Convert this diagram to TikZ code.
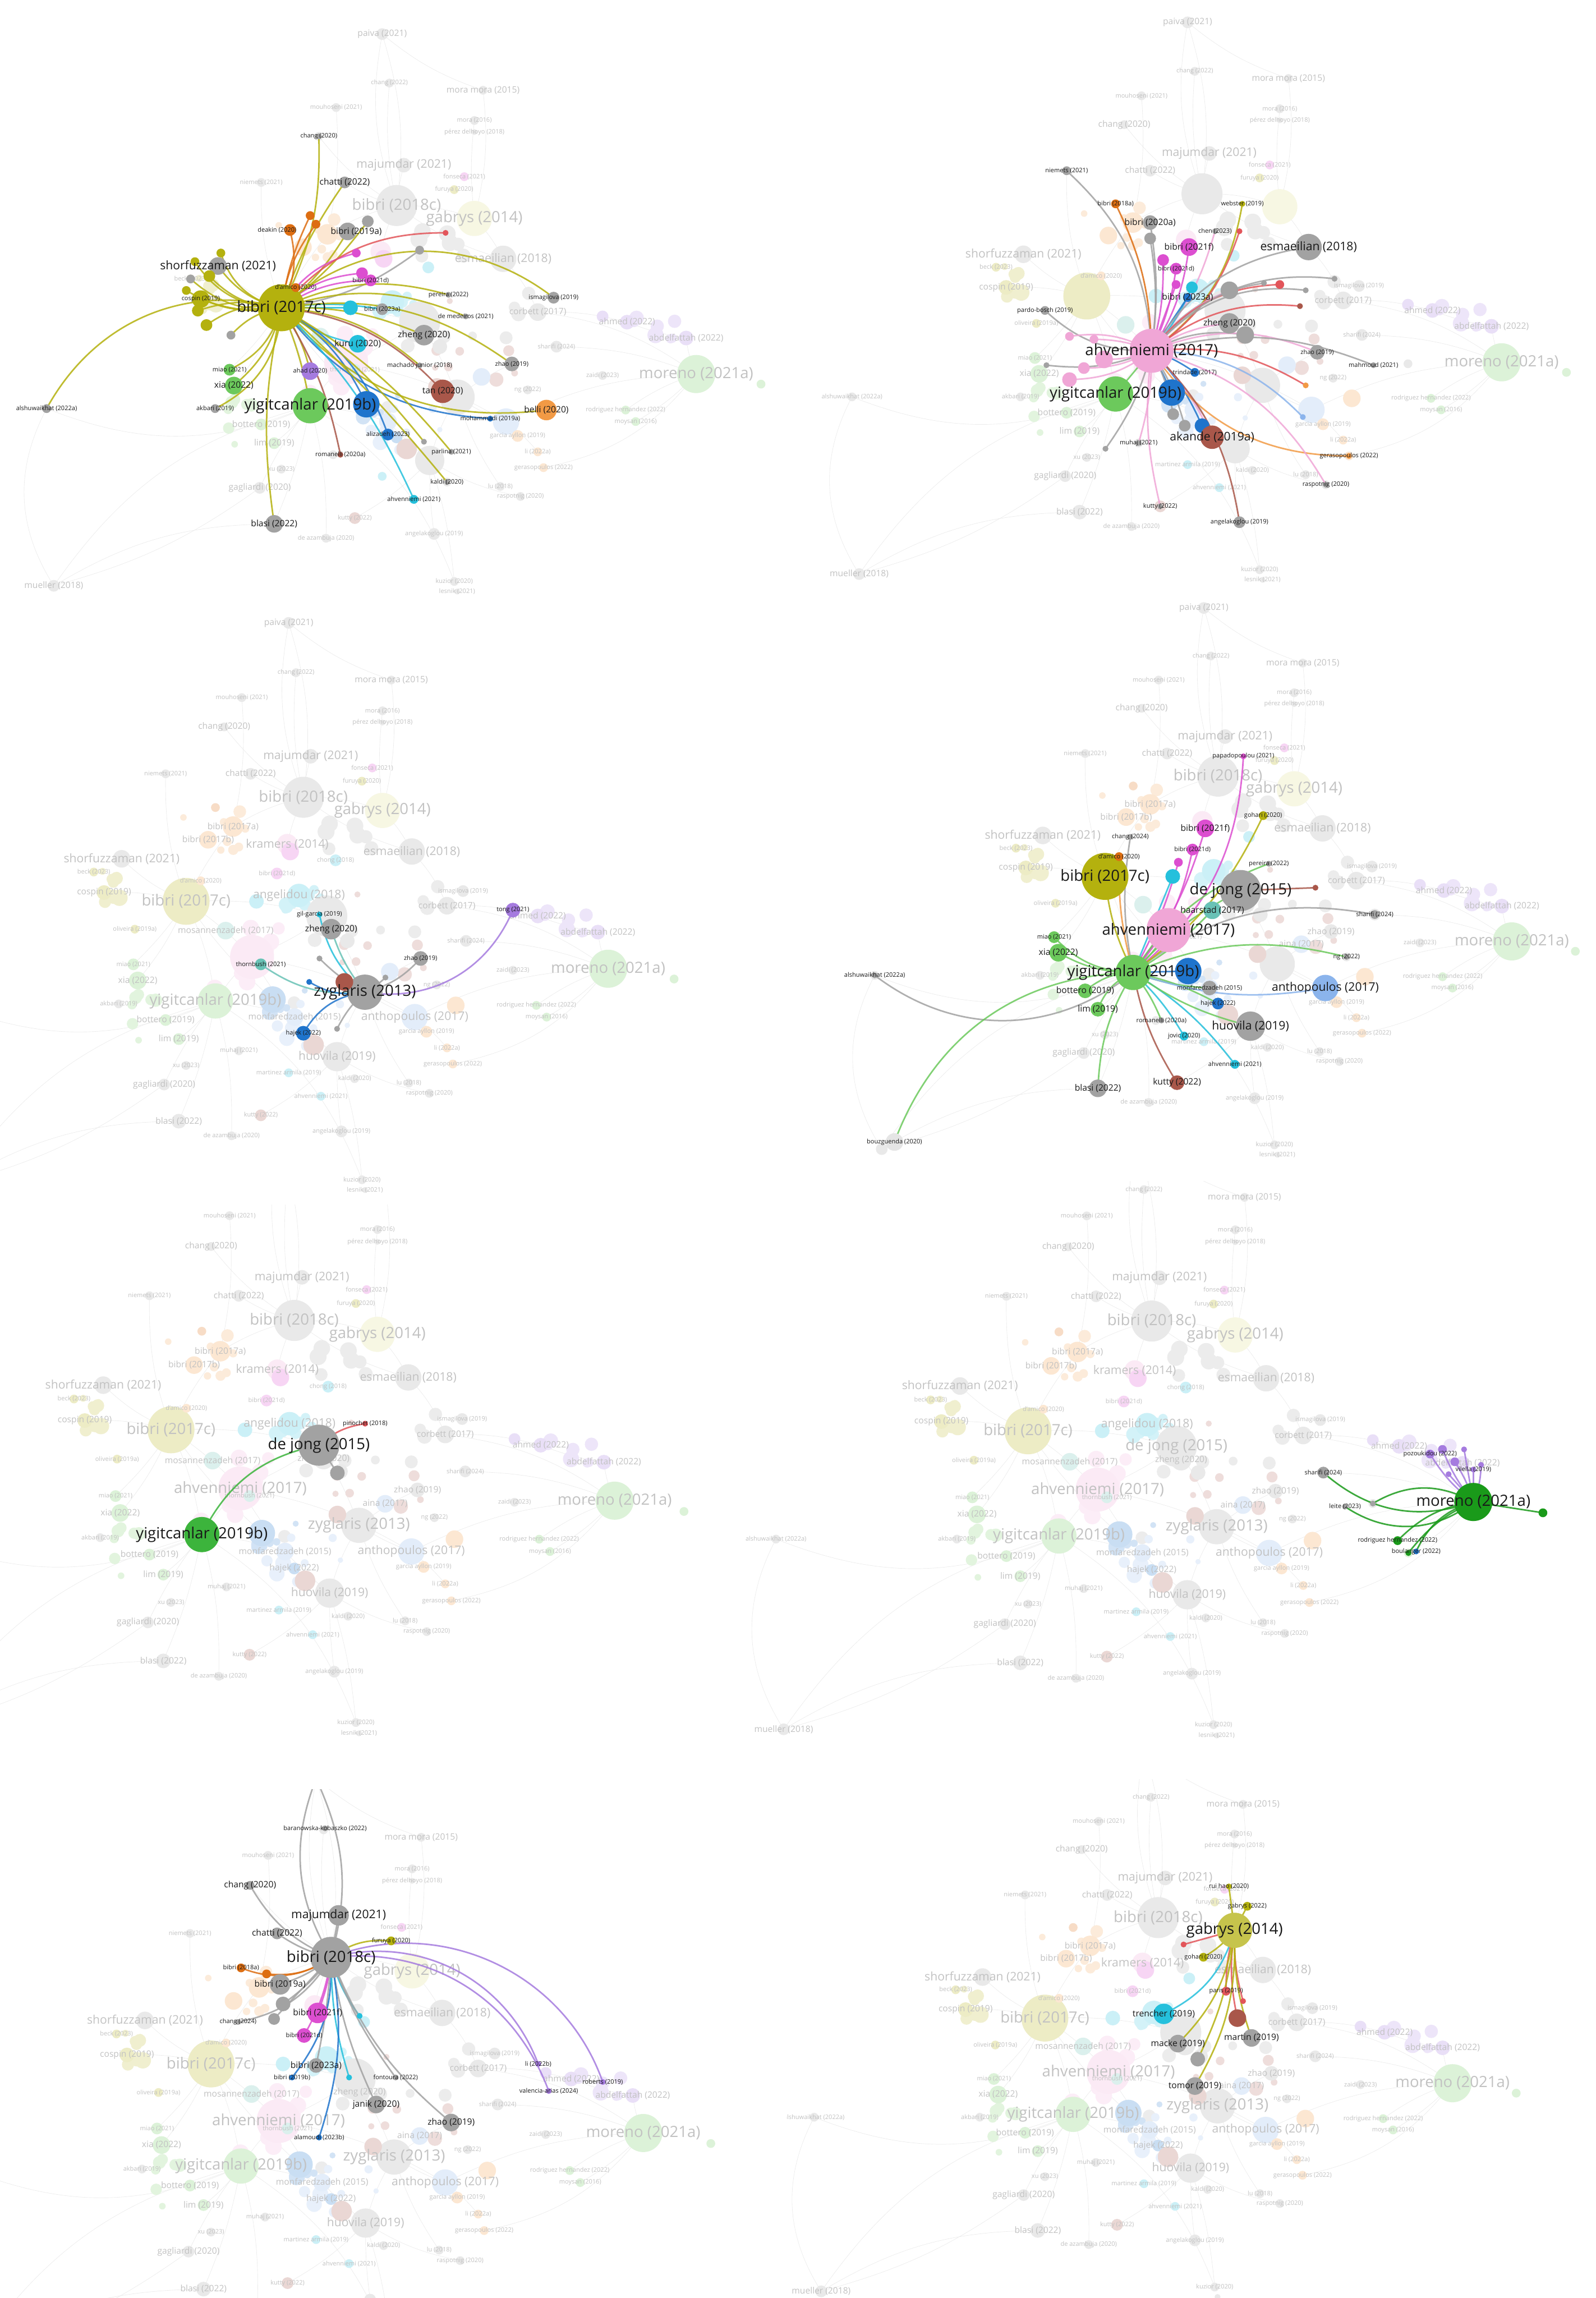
\documentclass[tikz,border=0pt]{standalone}
\usepackage{fontspec}
\setmainfont{Open Sans}
\definecolor{vosolive}{HTML}{B4B10E}
\definecolor{vosyellow}{HTML}{C6C44C}
\definecolor{vosgreen}{HTML}{6CC95C}
\definecolor{vosmidgreen}{HTML}{3CB43C}
\definecolor{vosdkgreen}{HTML}{1A9A1A}
\definecolor{vospink}{HTML}{F0A6D6}
\definecolor{vosgray}{HTML}{A2A2A2}
\definecolor{vosblue}{HTML}{1F74CC}
\definecolor{vosltblue}{HTML}{8BB4EC}
\definecolor{voscyan}{HTML}{25C0DC}
\definecolor{vosorange}{HTML}{F29A45}
\definecolor{vosdkorange}{HTML}{DD6E12}
\definecolor{vospurple}{HTML}{A57BDF}
\definecolor{vosbrown}{HTML}{A9574A}
\definecolor{vosmagenta}{HTML}{DC4ED0}
\definecolor{vospale}{HTML}{DCDD8C}
\definecolor{vosred}{HTML}{E2555A}
\definecolor{vosteal}{HTML}{69C2B6}
\newcommand\vosL{\fontsize{15}{15}\selectfont}
\newcommand\vosM{\fontsize{11.5}{12}\selectfont}
\newcommand\vosS{\fontsize{8.5}{9}\selectfont}
\newcommand\vosT{\fontsize{6}{6}\selectfont}
\tikzset{
dotn/.style={circle,inner sep=0pt,draw=none},
fadetxt/.style={inner sep=0pt,text=black!24},
hltxt/.style={inner sep=0pt,text=black!90},
bgedge/.style={draw=black!8,line width=0.35pt},
hledge/.style={line width=1.5pt,draw opacity=0.85}
}
% faded labels left out in a panel (cut by its edge, or hidden there)
\def\vospanel{none}
\newcommand\vosskip[1]{\foreach \s in {#1}{\expandafter\gdef\csname vosskip@\vospanel @\s\endcsname{}}}
% common map: name/x/y/radius/colour/size/label
\def\netnodes{%
b17c/0/0/16/vosolive/L/bibri (2017c),
yig19b/20/68/12/vosgreen/L/yigitcanlar (2019b),
ahv17/45/38/15/vospink/L/ahvenniemi (2017),
mor21a/288/46/13/vosgreen/L/moreno (2021a),
dej15/96/10/14/vosgray/L/de jong (2015),
zyg13/122/62/12/vosgray/L/zyglaris (2013),
b18c/80/-71/14/vosgray/L/bibri (2018c),
gab14/134/-62/12/vospale/L/gabrys (2014),
esm18/154/-34/9/vosgray/M/esmaeilian (2018),
huo19/103/106/10/vosgray/M/huovila (2019),
ant17/156/79/9/vosltblue/M/anthopoulos (2017),
ang18/77/-4/8/voscyan/M/angelidou (2018),
kra14/69/-39/7/vospink/M/kramers (2014),
shf21/-44/-29/6/vosgray/M/shorfuzzaman (2021),
maj21/85/-99/5/vosgray/M/majumdar (2021),
bla22/-5/150/5/vosgray/S/blasi (2022),
cor17/178/3/6/vosgray/S/corbett (2017),
mos17/27/20/6/vosteal/S/mosannenzadeh (2017),
mon15/74/79/6/vosltblue/S/monfaredzadeh (2015),
b17a/32/-51/7/vosorange/S/bibri (2017a),
b17b/15/-42/6/vosorange/S/bibri (2017b),
ahm22/240/10/5/vospurple/S/ahmed (2022),
abd22/281/21/5/vospurple/S/abdelfattah (2022),
xia22/-33/54/6/vosgreen/S/xia (2022),
miao21/-36/43/4/vosgreen/T/miao (2021),
bot19/-14/81/4/vosgreen/S/bottero (2019),
lim19/-5/94/4/vosgreen/S/lim (2019),
cos19/-56/-6/5/vosolive/S/cospin (2019),
beck23/-63/-20/3/vosolive/T/beck (2023),
dam20/10/-14/3/vosorange/T/d'amico (2020),
b21d/62/-19/4/vosmagenta/T/bibri (2021d),
b21f/71/-34/6/vosmagenta/T/{},
b18a/20/-64/3/vosdkorange/T/{},
chong18/102/-28/4/voscyan/T/chong (2018),
isma19/189/-7/4/vosgray/T/ismagilova (2019),
zhe20/99/19/7/vosgray/S/zheng (2020),
jan20/110/27/5/vosgray/T/{},
oli19/-35/19/3/vosolive/T/oliveira (2019a),
shr24/191/27/4/vosgray/T/sharifi (2024),
zhao19/160/39/5/vosgray/S/zhao (2019),
aina17/139/48/6/vosltblue/S/aina (2017),
thor21/51/43/4/vosteal/T/thornbush (2021),
zai23/223/47/3/vosgray/T/zaidi (2023),
ng22/171/57/3/vosgray/T/ng (2022),
akb19/-46/70/3/vosgray/T/akbari (2019),
rodh22/239/71/3/vosgreen/T/rodriguez hernandez (2022),
moy16/246/79/3/vosgreen/T/moysan (2016),
gar19/164/89/4/vosorange/T/garcia ayllon (2019),
bel20/184/71/6/vosorange/T/{},
haj22/80/90/4/vosblue/S/hajek (2022),
li22/178/100/3/vosorange/T/li (2022a),
muh21/36/102/3/vosgray/T/muhaj (2021),
ger22/182/111/3/vosorange/T/gerasopoulos (2022),
xu23/0/112/3/vosgray/T/xu (2023),
mar19/70/117/3/voscyan/T/martinez armila (2019),
kal20/115/121/3/vosgray/T/kaldi (2020),
lu18/152/124/3/vosgray/T/lu (2018),
gag20/-15/125/4/vosgray/S/gagliardi (2020),
ras20/166/131/3/vosgray/T/raspotnig (2020),
ahv21/92/133/3/voscyan/T/ahvenniemi (2021),
kut22/51/146/4/vosbrown/T/kutty (2022),
dea20/31/160/3/vosgray/T/de azambuja (2020),
angk19/106/157/4/vosgray/T/angelakoglou (2019),
kuz20/120/190/3/vosgray/T/kuzior (2020),
les21/122/197/2/vosgray/T/lesnik (2021),
pai21/70/-190/4/vosgray/S/paiva (2021),
chg22/75/-156/3/vosgray/T/chang (2022),
mm15/140/-151/3/vosgray/S/mora mora (2015),
mou21/38/-139/3/vosgray/T/mouhoseni (2021),
mora16/134/-130/3/vosgray/T/mora (2016),
pde18/134/-122/2/vosgray/T/pérez delhoyo (2018),
chg20/26/-119/3/vosgray/S/chang (2020),
nie21/-14/-87/3/vosgray/T/niemets (2021),
cha22/44/-87/4/vosgray/S/chatti (2022),
fon21/127/-91/3/vosmagenta/T/fonseca (2021),
fur20/120/-82/3/vosolive/T/furuya (2020),
mue18/-158/193/4/vosgray/S/mueller (2018),
alsh22/-163/70/3/vosgray/T/alshuwaikhat (2022a),
cy1/48/0/5/voscyan/T/{},
blu1/59/67/9/vosblue/T/{},
aka19/87/98/7/vosbrown/T/{},
gm2/333/53/3/vosgreen/T/{},
zyb/108/55/6/vosbrown/T/{},
tong21/223/6/4/vospurple/T/{}%
}
\def\netedges{%
b17c/yig19b/8, b17c/ahv17/6, ahv17/yig19b/-6, b17c/shf21/10, b17c/cos19/-8,
b17c/b17a/6, b17a/b18c/8, b18c/maj21/4, b18c/cha22/8, b18c/chg20/10,
b18c/pai21/15, b18c/pai21/-12, gab14/mm15/-10, gab14/mora16/6, gab14/esm18/8,
esm18/cor17/10, dej15/zyg13/6, zyg13/huo19/-8, huo19/kut22/8, ahv17/huo19/-10,
yig19b/bla22/6, yig19b/alsh22/22, yig19b/mue18/-20, mor21a/abd22/8, mor21a/rodh22/-8,
mor21a/ant17/-12, ant17/zyg13/6, kuz20/huo19/-6, angk19/huo19/4, dea20/yig19b/-8,
gag20/yig19b/6, b17c/dej15/8, dej15/ang18/-6, zhao19/zyg13/-6, shr24/mor21a/10,
ahm22/cor17/-8, abd22/ahm22/6, b18c/gab14/10, b18c/esm18/-10, kra14/b18c/6,
ahv17/dej15/-6, ahv17/ant17/10, mon15/yig19b/-6, mue18/bla22/15, alsh22/mue18/-30,
gag20/mue18/10, mor21a/moy16/8, mor21a/ger22/20, mor21a/cor17/-14, pai21/mm15/-10,
chg22/b18c/-8, mou21/b17a/8, nie21/b17c/-10, kuz20/yig19b/-18, lu18/zyg13/8,
ras20/huo19/10, li22/ant17/-6, gar19/ant17/6, b17c/xia22/8, b17c/miao21/6,
b17c/blu1/-6, yig19b/lim19/8, yig19b/bot19/4%
}
\newcommand\netbase{%
\foreach \nm/\x/\y/\rr/\col/\sz/\lbl in \netnodes {\coordinate (\nm) at (\x,\y);}
\foreach \a/\b/\bd in \netedges {\draw[bgedge] (\a) to[bend left=\bd] (\b);}
\pgfmathsetseed{321}
\foreach \col/\cx/\cy/\sx/\sy [count=\k] in {vospink/42/40/25/22, vosgray/125/30/55/45,
  vosltblue/85/85/30/20, voscyan/85/-5/20/15, vosorange/20/-45/22/18, vosolive/-48/-12/14/14,
  vosbrown/135/25/35/30, vospurple/258/14/22/8, vosgray/110/-55/30/20, vosgreen/-25/80/15/20,
  vosblue/70/72/15/12}{
  \foreach \j in {1,...,8}{
    \pgfmathsetmacro\rx{\cx+\sx*rand}
    \pgfmathsetmacro\ry{\cy+\sy*rand}
    \pgfmathsetmacro\rd{0.18+0.4*rnd}
    \node[dotn,fill=\col!20,minimum size=\rd cm] (bg\k-\j) at (\rx,\ry) {};}}
\foreach \nm/\x/\y/\rr/\col/\sz/\lbl in \netnodes
  {\node[dotn,fill=\col!24,minimum size=\rr*0.1cm] (\nm-d) at (\nm) {};}
\foreach \nm/\x/\y/\rr/\col/\sz/\lbl in \netnodes
  {\ifcsname vosskip@\vospanel @\nm\endcsname\else
   \node[fadetxt,font=\csname vos\sz\endcsname] (\nm-t) at (\nm) {\lbl};\fi}
}
\begin{document}
\begin{tikzpicture}[x=0.05cm,y=-0.05cm]
\useasboundingbox (0,0) rectangle (1089,1568);
\fill[white] (0,0) rectangle (1089,1568);

% bibri (2017c)
\begin{scope}
\clip (0,0) rectangle (540,409);
\begin{scope}[shift={(192,210)},scale=0.983,name prefix=pa-]
\def\vospanel{pa}
\vosskip{b17c,yig19b,chg20,cha22,shf21,cos19,dam20,b21d,isma19,zhe20,zhao19,miao21,xia22,
  akb19,kal20,ahv21,bla22,alsh22,dej15,zyg13,ahv17,ang18,kra14,b17a,b17b,mos17,mon15,ant17,
  huo19,aina17,haj22,muh21,mar19,chong18,oli19}
\netbase
\foreach \nm/\x/\y in {dk/6/-54,bx/46/-53,o5/24/-58,pr/116/-9,bg/70/1,dm/128/6,ku/53/25,ah/20/44,
  mj/96/40,tn/112/58,mh/145/77,az/74/88,fg/99/93,rm/41/102,pl/118/100,y1/-60/-32,y2/-66/-12,
  y3/-58/2,y4/-50/-22,y5/-52/12,y6/-42/-38,r1/114/-52,m1/56/-24,m2/52/-38,g1/60/-60,g2/96/-40}
  \coordinate (\nm) at (\x,\y);
\foreach \b/\col/\bd in {chg20/vosolive/-14,cha22/vosolive/8,dk/vosdkorange/-20,o5/vosdkorange/14,
  b18a/vosdkorange/8,bx/vosolive/-10,g1/vosolive/-8,g2/vosgray/-14,shf21/vosolive/20,y1/vosolive/28,
  y2/vosolive/20,y3/vosolive/-16,y4/vosolive/22,y5/vosolive/-22,y6/vosolive/30,cos19/vosolive/14,
  beck23/vosolive/24,oli19/vosolive/-18,dam20/vosdkorange/0,b21d/vosmagenta/16,m1/vosmagenta/18,
  m2/vosmagenta/22,r1/vosred/25,pr/vosolive/20,isma19/vosolive/40,bg/voscyan/8,cy1/voscyan/0,
  dm/vosolive/20,zhe20/vosolive/12,ku/voscyan/-14,zhao19/vosolive/22,miao21/vosolive/24,
  xia22/vosolive/18,ah/vosolive/10,mj/vosolive/18,tn/vosbrown/20,akb19/vosolive/30,yig19b/vosolive/6,
  blu1/vosblue/16,bel20/vosolive/-28,mh/vosblue/-24,az/vosblue/20,fg/vosolive/8,rm/vosbrown/10,
  pl/vosolive/10,kal20/vosolive/4,ahv21/voscyan/10,bla22/vosolive/-10,alsh22/vosolive/-38}
  \draw[hledge,draw=\col] (b17c) to[bend left=\bd] (\b);
\foreach \nm/\rr/\col in {b17c/16/vosolive,yig19b/12/vosgreen,blu1/9/vosblue,dk/4/vosdkorange,
  o5/3/vosdkorange,b18a/3/vosdkorange,bx/6/vosgray,g1/4/vosgray,g2/3/vosgray,shf21/6/vosgray,
  y1/3/vosolive,y2/3/vosolive,y3/4/vosolive,y4/4/vosolive,y5/4/vosolive,y6/3/vosolive,
  cos19/6/vosolive,beck23/3/vosgray,oli19/3/vosgray,dam20/3/vosdkorange,b21d/4/vosmagenta,
  m1/4/vosmagenta,m2/3/vosmagenta,r1/2/vosred,pr/2/vosgray,isma19/4/vosgray,bg/4/vosgray,
  cy1/5/voscyan,dm/2/vosgray,zhe20/7/vosgray,ku/6/voscyan,zhao19/5/vosgray,miao21/4/vosgreen,
  xia22/6/vosgreen,ah/6/vospurple,mj/2/vosgray,tn/8/vosbrown,akb19/3/vosgray,bel20/7/vosorange,
  mh/2/vosblue,az/4/vosblue,fg/2/vosgray,rm/2/vosbrown,pl/2/vosgray,kal20/2/vosgray,
  ahv21/3/voscyan,bla22/6/vosgray,alsh22/3/vosgray,chg20/2/vosgray,cha22/4/vosgray}
  \node[dotn,fill=\col,minimum size=\rr*0.1cm] (\nm-h) at (\nm) {};
\foreach \nm/\dx/\dy/\sz/\lbl in {b17c/0/0/L/bibri (2017c),yig19b/0/0/L/yigitcanlar (2019b),
  chg20/0/0/T/chang (2020),cha22/0/0/S/chatti (2022),dk/-9/0/T/deakin (2020),bx/6/0/S/bibri (2019a),
  shf21/0/0/M/shorfuzzaman (2021),cos19/0/0/T/cospin (2019),dam20/0/0/T/d'amico (2020),
  b21d/0/0/T/bibri (2021d),pr/0/0/T/pereira (2022),isma19/0/0/T/ismagilova (2019),
  bg/0/0/T/bibri (2023a),dm/0/0/T/de medeiros (2021),zhe20/0/0/S/zheng (2020),ku/0/0/S/kuru (2020),
  zhao19/0/0/T/zhao (2019),miao21/0/0/T/miao (2021),xia22/0/0/S/xia (2022),ah/0/0/T/ahad (2020),
  mj/0/0/T/machado junior (2018),tn/0/0/S/tan (2020),akb19/0/0/T/akbari (2019),
  bel20/0/0/S/belli (2020),mh/0/0/T/mohammadi (2019a),az/0/0/T/alizadeh (2023),
  rm/0/0/T/romanelli (2020a),pl/0/0/T/parlina (2021),kal20/0/0/T/kaldi (2020),
  ahv21/0/0/T/ahvenniemi (2021),bla22/0/0/S/blasi (2022),alsh22/0/0/T/alshuwaikhat (2022a)}
  \node[hltxt,font=\csname vos\sz\endcsname] (\nm-ht) at ([shift={(\dx,\dy)}]\nm) {\lbl};
\end{scope}
\end{scope}

% ahvenniemi (2017)
\begin{scope}
\clip (540,0) rectangle (1089,409);
\begin{scope}[shift={(741.6,202)},scale=0.983,name prefix=pb-]
\def\vospanel{pb}
\vosskip{ahv17,yig19b,esm18,nie21,b21d,zhe20,zhao19,muh21,ras20,angk19,ger22,kut22,b17c,dej15,
  zyg13,ang18,kra14,mos17,mon15,b17a,b17b,b18c,gab14,huo19,ant17,aina17,haj22,chong18,thor21,zai23}
\netbase
\foreach \nm/\x/\y in {ba/44/-51,g4/44/-40,wb/108/-64,cn/89/-45,r2/106/-45,m3/53/-25,p3/62/-8,
  c2/73/-6,bg/70/1,g5/99/-4,r3/134/-8,b2/148/7,g6/152/-4,pd/-29/10,p4/-12/58,p5/-12/28,p6/12/44,
  p7/-2/50,p8/5/30,g7/-28/48,mm/199/48,tr/75/53,sk/152/62,na/150/84,xe/13/106,g8/60/82,g9/68/90,
  pr/123/-9,g10/172/-12}
  \coordinate (\nm) at (\x,\y);
\foreach \b/\col/\bd in {nie21/vosgray/-22,b18a/vosdkorange/-12,ba/vosgray/-8,g4/vosgray/-8,
  wb/vosolive/-22,cn/vospink/-12,r2/vosred/-18,b21f/vosmagenta/-12,m3/vosmagenta/-8,
  b21d/vosmagenta/-8,p3/vosmagenta/0,c2/voscyan/-8,bg/vosblue/0,esm18/vosgray/25,pr/vosgray/22,
  g5/vospink/14,r3/vosred/25,b2/vosred/22,g6/vosgray/28,g10/vosgray/28,pd/vosgray/22,
  p4/vospink/18,p5/vospink/-18,p6/vospink/10,p7/vospink/14,p8/vospink/-10,g7/vosgray/14,
  zhe20/vospink/14,jan20/vosgray/18,zhao19/vospink/22,mm/vosgray/18,tr/vosblue/8,sk/vosred/18,
  na/vosltblue/22,blu1/vosblue/0,haj22/vosblue/10,g8/vosgray/8,g9/vosgray/8,aka19/vospink/10,
  muh21/vospink/8,xe/vosgray/10,ger22/vosorange/-28,ras20/vospink/22,angk19/vosbrown/18,
  kut22/vospink/-10,yig19b/vosgreen/0}
  \draw[hledge,draw=\col] (ahv17) to[bend left=\bd] (\b);
\foreach \nm/\rr/\col in {ahv17/15/vospink,yig19b/12/vosgreen,blu1/9/vosblue,haj22/5/vosblue,
  aka19/8/vosbrown,esm18/9/vosgray,b21f/6/vosmagenta,m3/4/vosmagenta,b21d/4/vosmagenta,
  p3/3/vosmagenta,c2/4/voscyan,bg/3/vosblue,ba/5/vosgray,g4/4/vosgray,b18a/3/vosdkorange,
  nie21/3/vosgray,wb/2/vosolive,cn/2/vosgray,r2/2/vosred,g5/6/vosgray,r3/3/vosred,b2/2/vosbrown,
  g6/2/vosgray,g10/2/vosgray,pr/2/vosgray,pd/3/vosgray,p4/5/vospink,p5/3/vospink,p6/6/vospink,
  p7/4/vospink,p8/3/vospink,g7/2/vosgray,zhe20/7/vosgray,jan20/6/vosgray,zhao19/5/vosgray,
  mm/2/vosgray,tr/3/vosblue,sk/2/vosorange,na/2/vosltblue,g8/4/vosgray,g9/4/vosgray,
  muh21/2/vosgray,xe/2/vosgray,ger22/2/vosorange,ras20/2/vosgray,angk19/4/vosgray,kut22/2/vosgray}
  \node[dotn,fill=\col,minimum size=\rr*0.1cm] (\nm-h) at (\nm) {};
\foreach \nm/\sz/\lbl in {ahv17/L/ahvenniemi (2017),yig19b/L/yigitcanlar (2019b),
  esm18/M/esmaeilian (2018),nie21/T/niemets (2021),b18a/T/bibri (2018a),
  ba/S/bibri (2020a),wb/T/webster (2019),cn/T/chen (2023),b21f/S/bibri (2021f),
  b21d/T/bibri (2021d),bg/S/bibri (2023a),pd/T/pardo-bosch (2019),
  zhe20/S/zheng (2020),zhao19/T/zhao (2019),tr/T/trindade (2017),
  aka19/M/akande (2019a),muh21/T/muhaj (2021),ras20/T/raspotnig (2020),
  angk19/T/angelakoglou (2019),ger22/T/gerasopoulos (2022),kut22/T/kutty (2022),
  mm/T/mahmoud (2021)}
  \node[hltxt,font=\csname vos\sz\endcsname] (\nm-ht) at (\nm) {\lbl};
\end{scope}
\end{scope}

% zyglaris (2013)
\begin{scope}
\clip (0,409) rectangle (540,822);
\begin{scope}[shift={(127,615)},name prefix=pc-]
\def\vospanel{pc}
\vosskip{zyg13,zhe20,thor21,zhao19,haj22,alsh22,mue18,dej15,ahv17,aina17}
\netbase
\foreach \nm/\x/\y in {gl/91/9,e1/84/55,g9/91/39,g10/103/87,g11/136/52}
  \coordinate (\nm) at (\x,\y);
\foreach \b/\col/\bd in {tong21/vospurple/-38,zhe20/vosteal/10,gl/voscyan/18,thor21/vosteal/20,
  zhao19/vosgray/-16,haj22/vosblue/-26,e1/vosblue/20,g9/vosgray/8,g10/vosgray/-10,g11/vosgray/-8}
  \draw[hledge,draw=\col] (zyg13) to[bend left=\bd] (\b);
\foreach \nm/\rr/\col in {zyg13/12/vosgray,zyb/6/vosbrown,tong21/5/vospurple,zhe20/7/vosgray,
  thor21/4/vosteal,zhao19/5/vosgray,haj22/5/vosblue,gl/2/voscyan,e1/2/vosblue,g9/2/vosgray,
  g10/2/vosgray,g11/2/vosgray}
  \node[dotn,fill=\col,minimum size=\rr*0.1cm] (\nm-h) at (\nm) {};
\foreach \nm/\sz/\lbl in {zyg13/L/zyglaris (2013),tong21/T/tong (2021),zhe20/S/zheng (2020),
  gl/T/gil-garcia (2019),thor21/T/thornbush (2021),zhao19/T/zhao (2019),haj22/T/hajek (2022)}
  \node[hltxt,font=\csname vos\sz\endcsname] (\nm-ht) at (\nm) {\lbl};
\end{scope}
\end{scope}

% yigitcanlar (2019b)
\begin{scope}
\clip (540,409) rectangle (1089,806);
\begin{scope}[shift={(754,598)},scale=0.964,name prefix=pd-]
\def\vospanel{pd}
\vosskip{yig19b,b17c,ahv17,dej15,ant17,huo19,b21d,dam20,shr24,miao21,xia22,bot19,lim19,
  mon15,ng22,ahv21,kut22,bla22,alsh22,haj22,mue18,zyg13,kra14,mos17,ang18,chong18,muh21,zhe20}
\netbase
\foreach \nm/\x/\y in {pp/98/-85,gh/112/-43,c4/18/-28,hs/76/24,b3/149/8,jv/56/113,bz/-149/188,
  rm/40/102,q1/52/-10,pr/116/-9}
  \coordinate (\nm) at (\x,\y);
\draw[hledge,draw=vosbrown] (dej15) -- (b3);
\foreach \b/\col/\bd in {miao21/vosgreen/22,xia22/vosgreen/14,bot19/vosgreen/-18,lim19/vosgreen/-22,
  alsh22/vosgray/38,bz/vosgreen/-34,bla22/vosgreen/-14,kut22/vosbrown/-10,ahv21/voscyan/10,
  jv/voscyan/8,rm/vosgreen/8,haj22/vosgreen/8,mon15/vosgreen/-8,huo19/vosgreen/-10,
  ant17/vosltblue/-14,ng22/vosgreen/18,shr24/vosgray/24,dej15/vosgreen/10,hs/vosgreen/-8,
  b17c/vosolive/10,ahv17/vosgreen/-6,b21f/vosmagenta/-10,b21d/vosmagenta/-14,pp/vosmagenta/-24,
  gh/vosolive/-14,c4/vosgray/10,dam20/vosorange/8,pr/vosgreen/18,cy1/voscyan/0,blu1/vosblue/0,
  q1/vosmagenta/-6}
  \draw[hledge,draw=\col] (yig19b) to[bend left=\bd] (\b);
\foreach \nm/\rr/\col in {b17c/16/vosolive,ahv17/15/vospink,dej15/14/vosgray,yig19b/12/vosgreen,
  blu1/9/vosblue,ant17/9/vosltblue,huo19/10/vosgray,hs/6/vosteal,b21f/6/vosmagenta,
  b21d/4/vosmagenta,pp/2/vosmagenta,gh/3/vosolive,c4/2/vosgray,dam20/3/vosdkorange,pr/2/vosgray,
  cy1/5/voscyan,q1/3/vosmagenta,shr24/3/vosgray,miao21/4/vosgreen,xia22/6/vosgreen,
  bot19/5/vosgreen,lim19/5/vosgreen,mon15/5/vosgray,ng22/2/vosgray,rm/2/vosgray,jv/3/voscyan,
  ahv21/3/voscyan,kut22/5/vosbrown,bla22/6/vosgray,alsh22/2/vosgray,bz/6/black!10,
  haj22/4/vosblue,b3/2/vosbrown}
  \node[dotn,fill=\col,minimum size=\rr*0.1cm] (\nm-h) at (\nm) {};
\foreach \nm/\sz/\lbl in {yig19b/L/yigitcanlar (2019b),b17c/L/bibri (2017c),
  ahv17/L/ahvenniemi (2017),dej15/L/de jong (2015),ant17/M/anthopoulos (2017),
  huo19/M/huovila (2019),hs/S/haarstad (2017),b21f/S/bibri (2021f),b21d/T/bibri (2021d),
  pp/T/papadopoulou (2021),gh/T/gohari (2020),c4/T/chang (2024),dam20/T/d'amico (2020),
  pr/T/pereira (2022),shr24/T/sharifi (2024),miao21/T/miao (2021),xia22/S/xia (2022),
  bot19/S/bottero (2019),lim19/S/lim (2019),mon15/T/monfaredzadeh (2015),ng22/T/ng (2022),
  rm/T/romanelli (2020a),jv/T/jovic (2020),ahv21/T/ahvenniemi (2021),kut22/S/kutty (2022),
  bla22/S/blasi (2022),alsh22/T/alshuwaikhat (2022a),bz/T/bouzguenda (2020),haj22/T/hajek (2022)}
  \node[hltxt,font=\csname vos\sz\endcsname] (\nm-ht) at (\nm) {\lbl};
\end{scope}
\end{scope}

% de jong (2015)
\begin{scope}
\clip (0,822) rectangle (498,1205);
\begin{scope}[shift={(116.7,975.6)},scale=1.051,name prefix=pe-]
\def\vospanel{pe}
\vosskip{dej15,yig19b,alsh22,mue18,pai21,chg22,mm15}
\netbase
\foreach \nm/\x/\y in {pn/126/-4,g1/108/28}
  \coordinate (\nm) at (\x,\y);
\draw[hledge,draw=vosmidgreen] (dej15) to[bend left=-26] (yig19b);
\draw[hledge,draw=vosred] (dej15) to[bend left=16] (pn);
\draw[hledge,draw=vosgray] (dej15) -- (g1);
\foreach \nm/\rr/\col in {dej15/14/vosgray,g1/5/vosgray,yig19b/12/vosmidgreen,pn/2/vosred}
  \node[dotn,fill=\col,minimum size=\rr*0.1cm] (\nm-h) at (\nm) {};
\foreach \nm/\sz/\lbl in {dej15/L/de jong (2015),yig19b/L/yigitcanlar (2019b),
  pn/T/pinochet (2018)}
  \node[hltxt,font=\csname vos\sz\endcsname] (\nm-ht) at (\nm) {\lbl};
\end{scope}
\end{scope}

% moreno (2021a)
\begin{scope}
\clip (498,806) rectangle (1089,1205);
\begin{scope}[shift={(701.5,976.3)},scale=1.055,name prefix=pf-]
\def\vospanel{pf}
\vosskip{mor21a,shr24,rodh22,pai21,moy16,zai23}
\netbase
\foreach \nm/\x/\y in {pz/260/15,vl/288/25,lt/205/49,bl/251/78,u1/268/12,u2/276/20,u3/282/12,
  u4/293/22,u5/272/28}
  \coordinate (\nm) at (\x,\y);
\foreach \b/\col/\bd in {shr24/vosdkgreen/30,lt/vosdkgreen/36,zai23/vosdkgreen/-30,pz/vospurple/10,
  u1/vospurple/8,u2/vospurple/-8,u3/vospurple/0,u4/vospurple/-10,u5/vospurple/0,vl/vospurple/0,
  rodh22/vosdkgreen/-18,bl/vosdkgreen/-24,gm2/vosdkgreen/0,moy16/vosdkgreen/-14}
  \draw[hledge,draw=\col] (mor21a) to[bend left=\bd] (\b);
\foreach \nm/\rr/\col in {mor21a/13/vosdkgreen,shr24/4/vosgray,lt/2/vosgray,zai23/2/vosgray,
  pz/3/vospurple,u1/3/vospurple,u2/3/vospurple,u3/2/vospurple,u4/2/vospurple,u5/2/vospurple,
  vl/2/vospurple,rodh22/3/vosdkgreen,bl/2/vosblue,gm2/3/vosdkgreen,moy16/2/vosdkgreen}
  \node[dotn,fill=\col,minimum size=\rr*0.1cm] (\nm-h) at (\nm) {};
\foreach \nm/\sz/\lbl in {mor21a/L/moreno (2021a),shr24/T/sharifi (2024),
  pz/T/pozoukidou (2022),vl/T/vilella (2019),lt/T/leite (2023),
  rodh22/T/rodriguez hernandez (2022),bl/T/boulanger (2022)}
  \node[hltxt,font=\csname vos\sz\endcsname] (\nm-ht) at (\nm) {\lbl};
\end{scope}
\end{scope}

% bibri (2018c)
\begin{scope}
\clip (0,1221) rectangle (537,1568);
\begin{scope}[shift={(144,1408.3)},scale=1.024,name prefix=pg-]
\def\vospanel{pg}
\vosskip{b18c,maj21,chg20,cha22,fur20,b21d,jan20,zhao19,pai21,alsh22,mue18,dea20,angk19,kuz20,
  les21,dej15,kra14,ang18,b17a,b17b,chong18,chg22}
\netbase
\foreach \nm/\x/\y in {bk/76/-157,o6/37/-60,bb/54/9,ft/123/9,c3/99/-32,c4/92/9,lb/218/0,va/225/18,
  rb/261/12,am/72/49,bg/70/1,bx/46/-53,g1/48/-40,g2/42/-30,ch/18/-28}
  \coordinate (\nm) at (\x,\y);
\foreach \b/\col/\bd in {pai21/vosgray/26,pai21/vosgray/-20,chg20/vosgray/18,maj21/vosgray/0,
  cha22/vosgray/10,fur20/vosolive/20,b18a/vosdkorange/28,o6/vosdkorange/20,bx/vosgray/10,
  g1/vosgray/8,g2/vosgray/0,ch/vosgray/24,b21f/vosmagenta/8,b21d/vosmagenta/10,bg/vosgray/4,
  bb/vosblue/20,c3/voscyan/-10,c4/voscyan/-8,ft/vosgray/-8,jan20/vosgray/-8,zhao19/vosgray/-14,
  lb/vospurple/42,va/vospurple/38,rb/vospurple/46,am/vosblue/14}
  \draw[hledge,draw=\col] (b18c) to[bend left=\bd] (\b);
\foreach \nm/\rr/\col in {b18c/14/vosgray,maj21/7/vosgray,chg20/3/vosgray,cha22/4/vosgray,
  fur20/3/vosolive,b18a/3/vosdkorange,o6/3/vosdkorange,bx/7/vosgray,g1/5/vosgray,g2/4/vosgray,
  ch/2/vosgray,b21f/7/vosmagenta,b21d/5/vosmagenta,bg/5/vosgray,bb/2/vosblue,c3/2/voscyan,
  c4/2/voscyan,ft/2/vosgray,jan20/6/vosgray,zhao19/6/vosgray,lb/2/vospurple,va/2/vospurple,
  rb/2/vospurple,am/2/vosblue,bk/2/vosgray}
  \node[dotn,fill=\col,minimum size=\rr*0.1cm] (\nm-h) at (\nm) {};
\foreach \nm/\sz/\lbl in {b18c/L/bibri (2018c),maj21/M/majumdar (2021),chg20/S/chang (2020),
  cha22/S/chatti (2022),fur20/T/furuya (2020),b18a/T/bibri (2018a),bx/S/bibri (2019a),
  ch/T/chang (2024),b21f/S/bibri (2021f),b21d/T/bibri (2021d),bg/S/bibri (2023a),
  bb/T/bibri (2019b),ft/T/fontoura (2022),jan20/S/janik (2020),zhao19/S/zhao (2019),
  lb/T/li (2022b),va/T/valencia-arias (2024),rb/T/roberts (2019),am/T/alamoudi (2023b),
  bk/T/baranowska-kobaszko (2022)}
  \node[hltxt,font=\csname vos\sz\endcsname] (\nm-ht) at (\nm) {\lbl};
\end{scope}
\end{scope}

% gabrys (2014)
\begin{scope}
\clip (537,1214) rectangle (1089,1568);
\begin{scope}[shift={(713,1377)},scale=0.966,name prefix=ph-]
\def\vospanel{ph}
\vosskip{gab14,pai21,les21,chong18,ang18,dej15,zhe20}
\netbase
\foreach \nm/\x/\y in {ru/130/-93,gb/143/-79,gh/112/-43,tc/84/-3,ps/128/-19,b4/136/0,r4/140/-12,
  mk/94/18,mt/146/14,g1/108/29,tm/106/48,c5/98/-52}
  \coordinate (\nm) at (\x,\y);
\foreach \b/\col/\bd in {ru/vosolive/0,gb/vosolive/0,gh/vosolive/10,tc/voscyan/24,ps/vosred/-8,
  b4/vosred/-10,r4/vosred/-8,mk/vosolive/18,mt/vosolive/-10,g1/vosolive/10,tm/vosolive/16,c5/vosred/0}
  \draw[hledge,draw=\col] (gab14) to[bend left=\bd] (\b);
\foreach \nm/\rr/\col in {gab14/12/vosyellow,ru/2/vosolive,gb/3/vosolive,gh/3/vosolive,
  tc/7/voscyan,ps/3/vosred,b4/6/vosbrown,r4/2/vosred,mk/6/vosgray,mt/6/vosgray,g1/5/vosgray,
  tm/6/vosgray,c5/2/vosred}
  \node[dotn,fill=\col,minimum size=\rr*0.1cm] (\nm-h) at (\nm) {};
\foreach \nm/\sz/\lbl in {gab14/L/gabrys (2014),ru/T/rui hao (2020),gb/T/gabrys (2022),
  gh/T/gohari (2020),tc/S/trencher (2019),ps/T/paris (2019),mk/S/macke (2019),
  mt/S/martin (2019),tm/S/tomor (2019)}
  \node[hltxt,font=\csname vos\sz\endcsname] (\nm-ht) at (\nm) {\lbl};
\end{scope}
\end{scope}
\end{tikzpicture}
\end{document}
